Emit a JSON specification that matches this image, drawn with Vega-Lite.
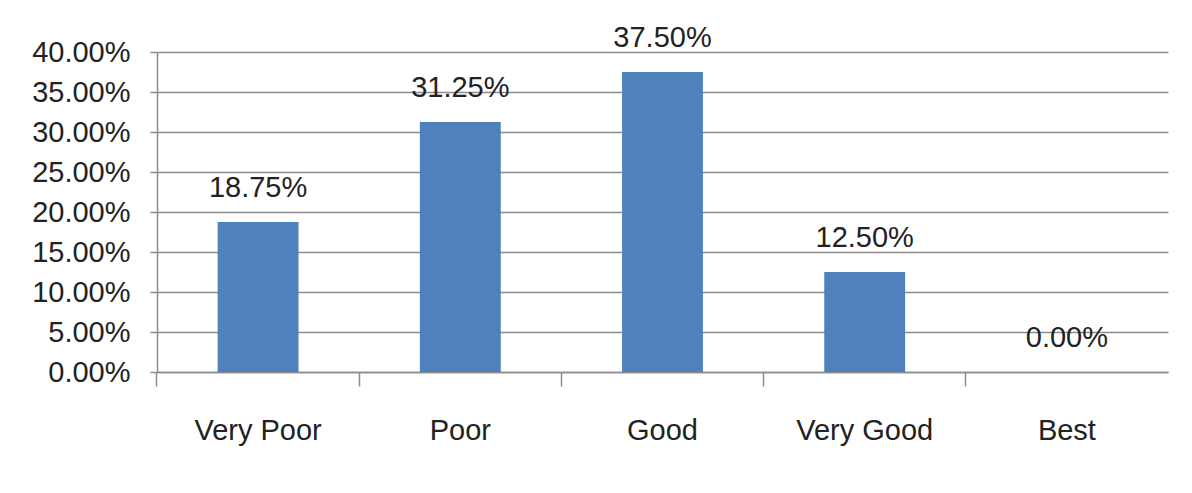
{
  "$schema": "https://vega.github.io/schema/vega-lite/v6.json",
  "autosize": {"type": "none"},
  "padding": {"left": 157, "top": 52, "right": 24, "bottom": 121},
  "width": 1011,
  "height": 320,
  "background": "white",
  "config": {
    "view": {"stroke": null},
    "font": "Liberation Sans, sans-serif"
  },
  "data": {
    "values": [
      {"rating": "Very Poor", "share": 0.1875},
      {"rating": "Poor", "share": 0.3125},
      {"rating": "Good", "share": 0.375},
      {"rating": "Very Good", "share": 0.125},
      {"rating": "Best", "share": 0.0}
    ]
  },
  "encoding": {
    "x": {
      "field": "rating",
      "type": "nominal",
      "sort": null,
      "scale": {"paddingInner": 0.6, "paddingOuter": 0.3},
      "axis": {
        "title": null,
        "labelAngle": 0,
        "labelFont": "Liberation Sans, sans-serif",
        "labelFontSize": 29,
        "labelColor": "#222222",
        "labelPadding": 30,
        "tickSize": 14,
        "tickColor": "#8c8c8c",
        "tickWidth": 1.5,
        "bandPosition": -0.75,
        "domainColor": "#8c8c8c",
        "domainWidth": 1.5,
        "grid": false
      }
    },
    "y": {
      "field": "share",
      "type": "quantitative",
      "scale": {"domain": [0, 0.4], "nice": false},
      "axis": {
        "title": null,
        "format": ".2%",
        "values": [0, 0.05, 0.1, 0.15, 0.2, 0.25, 0.3, 0.35, 0.4],
        "labelFont": "Liberation Sans, sans-serif",
        "labelFontSize": 29,
        "labelColor": "#222222",
        "labelPadding": 20,
        "labelOverlap": false,
        "labelFlush": false,
        "tickSize": 7,
        "tickColor": "#8c8c8c",
        "tickWidth": 1.5,
        "domainColor": "#8c8c8c",
        "domainWidth": 1.5,
        "grid": true,
        "gridColor": "#8c8c8c",
        "gridWidth": 1.5
      }
    }
  },
  "layer": [
    {
      "mark": {"type": "bar", "color": "#4F81BD"}
    },
    {
      "mark": {
        "type": "text",
        "baseline": "alphabetic",
        "dy": -25,
        "fontSize": 29,
        "font": "Liberation Sans, sans-serif",
        "color": "#222222"
      },
      "encoding": {
        "text": {"field": "share", "type": "quantitative", "format": ".2%"}
      }
    }
  ]
}
